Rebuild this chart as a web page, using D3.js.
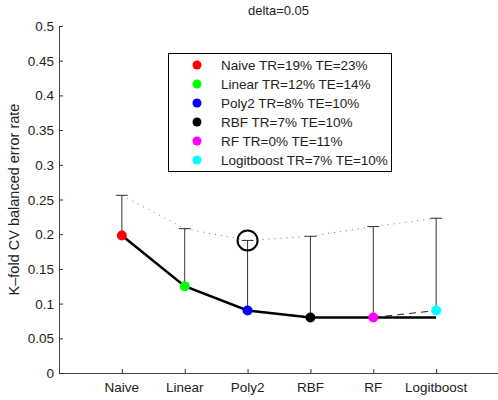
<!DOCTYPE html>
<html>
<head>
<meta charset="utf-8">
<script src="https://cdn.jsdelivr.net/npm/d3@7"></script>
<style>
  body { margin: 0; background: #fff; }
  text { font-family: "Liberation Sans", Arial, sans-serif; fill: #222; }
</style>
</head>
<body>
<div id="chart"></div>
<script>
// chart size and plot box
var width = 498,
    height = 400
var margin = {left: 59, top: 26, right: 0, bottom: 27}

// data
var methods = ["Naive", "Linear", "Poly2", "RBF", "RF", "Logitboost"]
var colors = ["#ff0000", "#00ff00", "#0000ff", "#000000", "#ff00ff", "#00ffff"]
var meanErr = [0.198, 0.125, 0.090, 0.080, 0.080, 0.090]
var upperErr = [0.256, 0.208, 0.191, 0.197, 0.211, 0.223]
var bestSoFar = [0.198, 0.125, 0.090, 0.080, 0.080, 0.080]
var legendText = ["Naive TR=19% TE=23%", "Linear TR=12% TE=14%", "Poly2 TR=8% TE=10%",
                  "RBF TR=7% TE=10%", "RF TR=0% TE=11%", "Logitboost TR=7% TE=10%"]
var yTicks = [0, 0.05, 0.1, 0.15, 0.2, 0.25, 0.3, 0.35, 0.4, 0.45, 0.5]
var chosen = 2 // circled model

var svg = d3.select("#chart")
    .append("svg")
    .attr("width", width)
    .attr("height", height)

var x = d3.scaleLinear()
    .domain([0, 7])
    .range([margin.left, width - margin.right + 1])
var y = d3.scaleLinear()
    .domain([0, 0.5])
    .range([height - margin.bottom, margin.top])

// axes (ticks pointing inward, matlab style)
var xAxis = svg.append("g")
    .attr("transform", "translate(0," + y(0) + ")")
    .call(d3.axisTop(x)
        .tickValues(methods.map(function(d, i) { return i + 1 }))
        .tickSize(4)
        .tickFormat(""))
xAxis.select(".domain").attr("d", "M" + x(0) + ",0.5H" + width)
xAxis.selectAll("line").attr("stroke", "#333")
xAxis.selectAll(".domain").attr("stroke", "#444")

methods.forEach(function(m, i) {
  svg.append("text")
    .attr("x", x(i + 1))
    .attr("y", y(0) + 19)
    .attr("text-anchor", "middle")
    .style("font-size", "13.5px")
    .text(m)
})

var yAxis = svg.append("g")
    .attr("transform", "translate(" + x(0) + ",0)")
    .call(d3.axisRight(y)
        .tickValues(yTicks)
        .tickSize(4)
        .tickFormat(""))
yAxis.select(".domain").attr("d", "M0.5," + y(0) + "V" + y(0.5))
yAxis.selectAll("line").attr("stroke", "#333")
yAxis.selectAll(".domain").attr("stroke", "#444")

yTicks.forEach(function(t) {
  svg.append("text")
    .attr("x", x(0) - 5)
    .attr("y", y(t) + 5)
    .attr("text-anchor", "end")
    .style("font-size", "13.5px")
    .text(d3.format("~g")(t))
})

// y label and title
svg.append("text")
    .attr("transform", "translate(19," + ((y(0) + y(0.5)) / 2) + ") rotate(-90)")
    .attr("text-anchor", "middle")
    .style("font-size", "14.5px")
    .text("K\u2013fold CV balanced error rate")

svg.append("text")
    .attr("x", (x(0) + width) / 2)
    .attr("y", 15)
    .attr("text-anchor", "middle")
    .style("font-size", "13px")
    .text("delta=0.05")

// dotted line through upper error bar ends
svg.append("path")
    .datum(upperErr)
    .attr("fill", "none")
    .attr("stroke", "#777")
    .attr("stroke-width", 1)
    .attr("stroke-dasharray", "1,5")
    .attr("d", d3.line()
        .x(function(d, i) { return x(i + 1) })
        .y(function(d) { return y(d) }))

// error bars (upper half only)
methods.forEach(function(m, i) {
  svg.append("line")
    .attr("x1", x(i + 1)).attr("x2", x(i + 1))
    .attr("y1", y(meanErr[i])).attr("y2", y(upperErr[i]))
    .attr("stroke", "#333").attr("stroke-width", 1)
  svg.append("line")
    .attr("x1", x(i + 1) - 6).attr("x2", x(i + 1) + 6)
    .attr("y1", y(upperErr[i])).attr("y2", y(upperErr[i]))
    .attr("stroke", "#333").attr("stroke-width", 1)
})

// dashed line from last best to last model
svg.append("line")
    .attr("x1", x(5)).attr("y1", y(meanErr[4]))
    .attr("x2", x(6)).attr("y2", y(meanErr[5]))
    .attr("stroke", "#222")
    .attr("stroke-width", 1)
    .attr("stroke-dasharray", "7,5")

// thick best-so-far line
svg.append("path")
    .datum(bestSoFar)
    .attr("fill", "none")
    .attr("stroke", "#000")
    .attr("stroke-width", 2.5)
    .attr("d", d3.line()
        .x(function(d, i) { return x(i + 1) })
        .y(function(d) { return y(d) }))

// markers
svg.selectAll("circle.pt")
    .data(meanErr)
    .enter()
    .append("circle")
    .attr("class", "pt")
    .attr("cx", function(d, i) { return x(i + 1) })
    .attr("cy", function(d) { return y(d) })
    .attr("r", 5)
    .attr("fill", function(d, i) { return colors[i] })

// circle around chosen model
svg.append("circle")
    .attr("cx", x(chosen + 1))
    .attr("cy", y(upperErr[chosen]))
    .attr("r", 10)
    .attr("fill", "none")
    .attr("stroke", "#000")
    .attr("stroke-width", 2)

// legend
svg.append("rect")
    .attr("x", 168.5).attr("y", 53.5)
    .attr("width", 223).attr("height", 118)
    .attr("fill", "#fff")
    .attr("stroke", "#000")
    .attr("stroke-width", 1)
legendText.forEach(function(t, i) {
  var ly = 65 + i * 19
  svg.append("circle")
    .attr("cx", 197).attr("cy", ly)
    .attr("r", 4.5)
    .attr("fill", colors[i])
  svg.append("text")
    .attr("x", 221).attr("y", ly + 5)
    .style("font-size", "13.5px")
    .text(t)
})
</script>
</body>
</html>
